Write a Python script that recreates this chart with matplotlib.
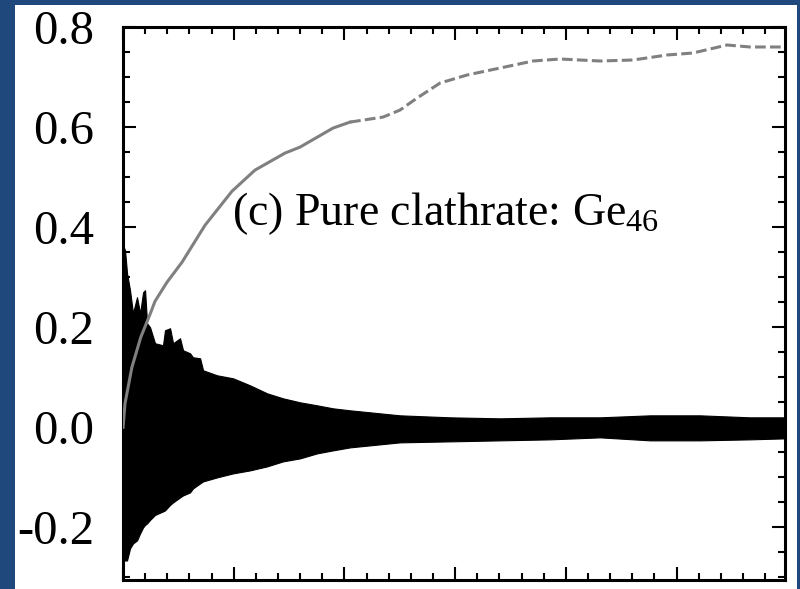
import matplotlib
matplotlib.use('Agg')
import matplotlib.pyplot as plt
from matplotlib.patches import Rectangle
from matplotlib.ticker import MultipleLocator

# gray curve
curve_x = [0.0, 0.018, 0.08, 0.16, 0.244, 0.289, 0.397, 0.533, 0.696, 0.741, 0.985,
           1.192, 1.463, 1.599, 1.897, 2.051, 2.349, 2.502, 2.656, 2.864, 3.107,
           3.406, 3.704, 3.948, 4.309, 4.607, 4.914, 5.149, 5.456, 5.664, 5.98]
curve_y = [0.0, 0.048, 0.12, 0.18, 0.226, 0.252, 0.29, 0.33, 0.388, 0.404, 0.472,
           0.514, 0.548, 0.56, 0.598, 0.61, 0.62, 0.634, 0.658, 0.688, 0.704,
           0.718, 0.732, 0.736, 0.732, 0.734, 0.744, 0.748, 0.764, 0.76, 0.76]
DASH_FROM = 2.2

# black oscillation band: upper and lower envelopes
env_x = [0.0, 0.018, 0.036, 0.063, 0.090, 0.126, 0.154, 0.181, 0.199, 0.217, 0.244,
         0.289, 0.361, 0.379, 0.425, 0.452, 0.515, 0.542, 0.605, 0.632, 0.696, 0.723,
         0.849, 0.994, 1.147, 1.301, 1.445, 1.599, 1.753, 1.897, 2.051, 2.502, 2.954,
         3.406, 3.857, 4.309, 4.761, 5.212, 5.664, 5.98]
env_hi = [0.364, 0.354, 0.308, 0.274, 0.228, 0.26, 0.228, 0.27, 0.274, 0.208, 0.2,
          0.168, 0.164, 0.194, 0.198, 0.168, 0.178, 0.154, 0.148, 0.14, 0.138, 0.114,
          0.104, 0.098, 0.084, 0.068, 0.058, 0.05, 0.044, 0.038, 0.034, 0.024, 0.02,
          0.018, 0.02, 0.02, 0.024, 0.024, 0.02, 0.02]
env_lo = [-0.266, -0.266, -0.266, -0.242, -0.232, -0.226, -0.212, -0.2, -0.195, -0.192, -0.185,
          -0.175, -0.168, -0.166, -0.155, -0.15, -0.14, -0.136, -0.13, -0.122, -0.112, -0.108,
          -0.1, -0.092, -0.086, -0.078, -0.068, -0.062, -0.052, -0.046, -0.04, -0.03, -0.028,
          -0.026, -0.024, -0.02, -0.026, -0.026, -0.024, -0.022]

yticks = [-0.2, 0.0, 0.2, 0.4, 0.6, 0.8]
label = '(c) Pure clathrate: Ge$_{46}$'

plt.rcParams['font.family'] = ['Liberation Serif', 'DejaVu Serif']
plt.rcParams['mathtext.fontset'] = 'custom'
plt.rcParams['mathtext.rm'] = 'Liberation Serif'
plt.rcParams['mathtext.it'] = 'Liberation Serif:italic'
plt.rcParams['axes.unicode_minus'] = False

fig = plt.figure(figsize=(8, 5.89), dpi=100, facecolor='#1f497d')
fig.add_artist(Rectangle((15 / 800, 0), 782 / 800, 584 / 589, transform=fig.transFigure,
                         facecolor='white', edgecolor='none', zorder=0))
ax = fig.add_axes([0.1538, 0.0153, 0.8275, 0.9389])

ax.fill_between(env_x, env_lo, env_hi, color='black', linewidth=0.8, zorder=2)

solid_x = [x for x in curve_x if x <= DASH_FROM]
solid_y = curve_y[:len(solid_x)]
ax.plot(solid_x, solid_y, color='#808080', lw=2.2, zorder=3)
ax.plot(curve_x[len(solid_x) - 1:], curve_y[len(solid_x) - 1:], color='#808080', lw=2.2,
        dashes=(3.5, 1.4), zorder=3)

ax.text(0.985, 0.404, label, fontsize=33, va='baseline', ha='left')

ax.set_xlim(0, 5.98)
ax.set_ylim(-0.305, 0.8)
ax.set_yticks(yticks)
ax.set_yticklabels([f'{v:.1f}' for v in yticks])
ax.yaxis.set_minor_locator(MultipleLocator(0.05))
ax.xaxis.set_major_locator(MultipleLocator(1))
ax.xaxis.set_minor_locator(MultipleLocator(0.2))
ax.tick_params(which='both', direction='in', top=True, right=True, labelbottom=False)
ax.tick_params(which='major', length=9.5, width=1.5, labelsize=35, pad=21)
ax.tick_params(which='minor', length=5, width=1.5)
for s in ax.spines.values():
    s.set_linewidth(2.2)

fig.savefig('out.png', dpi=100, facecolor=fig.get_facecolor())
